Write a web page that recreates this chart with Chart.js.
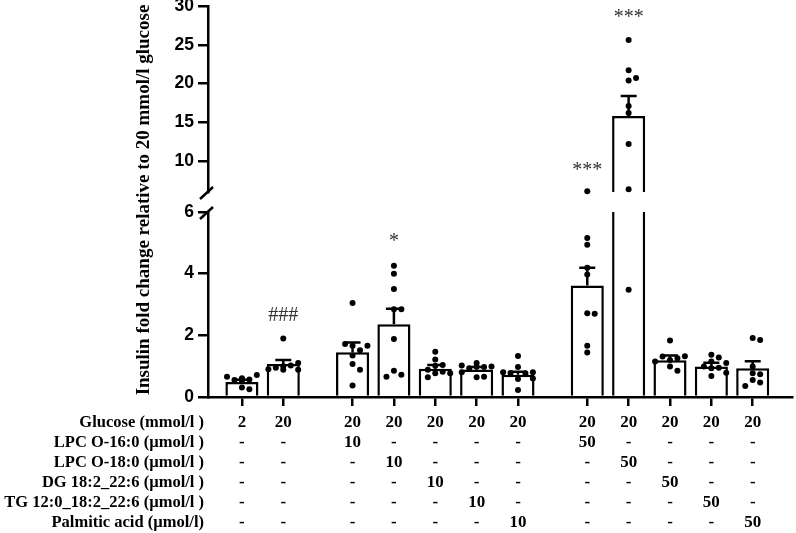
<!DOCTYPE html>
<html>
<head>
<meta charset="utf-8">
<script src="https://cdn.jsdelivr.net/npm/chart.js@4.4.0/dist/chart.umd.min.js"></script>
<style>
  html, body { margin: 0; padding: 0; background: #fff; }
  #wrap { position: relative; width: 796px; height: 533px; }
  .panel { position: absolute; left: 0; top: 0; width: 796px; }
</style>
</head>
<body>
<div id="wrap">
  <div class="panel" style="height:533px"><canvas id="lowChart"></canvas></div>
  <div class="panel" style="height:205px"><canvas id="highChart"></canvas></div>
</div>
<script>
// treatment table, one entry per bar
const glucose  = ['2', '20', '20', '20', '20', '20', '20', '20', '20', '20', '20', '20'];
const lpcO16   = ['-', '-', '10', '-', '-', '-', '-', '50', '-', '-', '-', '-'];
const lpcO18   = ['-', '-', '-', '10', '-', '-', '-', '-', '50', '-', '-', '-'];
const dg       = ['-', '-', '-', '-', '10', '-', '-', '-', '-', '50', '-', '-'];
const tg       = ['-', '-', '-', '-', '-', '10', '-', '-', '-', '-', '50', '-'];
const palmitic = ['-', '-', '-', '-', '-', '-', '10', '-', '-', '-', '-', '50'];
const rowNames = ['Glucose (mmol/l )', 'LPC O-16:0 (µmol/l )', 'LPC O-18:0 (µmol/l )',
                  'DG 18:2_22:6 (µmol/l )', 'TG 12:0_18:2_22:6 (µmol/l )', 'Palmitic acid (µmol/l)'];
const blocks = [2, 5, 5];   // bars per block, blocks separated by a wider gap

// bar heights (mean) and error (SEM)
const means = [0.49, 1.07, 1.45, 2.36, 0.92, 0.89, 0.72, 3.62, 15.8, 1.19, 0.99, 0.93];
const sems  = [0.07, 0.13, 0.32, 0.50, 0.12, 0.08, 0.10, 0.57, 2.6, 0.16, 0.12, 0.23];

// individual points
const ptsG2      = [0.55, 0.57, 0.55, 0.31, 0.25, 0.71, 0.66, 0.61, 0.55];
const ptsG20     = [1.9, 1.0, 1.02, 0.95, 1.1, 0.88, 0.9, 0.88];
const ptsLpc16a  = [3.05, 1.66, 1.52, 1.72, 1.66, 1.35, 1.07, 0.88, 0.37];
const ptsLpc18a  = [4.26, 4.0, 3.5, 2.85, 2.85, 1.88, 0.85, 0.72, 0.66];
const ptsDga     = [1.47, 1.22, 1.01, 1.04, 0.88, 0.82, 0.77, 0.77, 0.64];
const ptsTga     = [1.1, 0.97, 0.93, 0.99, 1.02, 0.98, 0.64, 0.66, 0.8];
const ptsPalma   = [1.33, 0.97, 0.77, 0.78, 0.8, 0.8, 0.58, 0.6, 0.23];
const ptsLpc16b  = [6.1, 5.16, 4.94, 4.19, 3.97, 2.72, 2.7, 1.66, 1.44];
const ptsLpc18b  = [25.6, 21.7, 20.4, 20.7, 17.1, 16.2, 12.2, 6.35, 3.48];
const ptsDgb     = [1.83, 1.2, 1.26, 1.31, 1.32, 1.15, 0.99, 0.85];
const ptsTgb     = [1.37, 1.28, 1.15, 0.93, 0.95, 0.99, 0.79, 0.68, 1.1];
const ptsPalmb   = [1.91, 1.85, 0.99, 0.77, 0.74, 0.55, 0.47, 0.36];
const points = [ptsG2, ptsG20, ptsLpc16a, ptsLpc18a, ptsDga, ptsTga, ptsPalma,
                ptsLpc16b, ptsLpc18b, ptsDgb, ptsTgb, ptsPalmb];

// significance marks
const markText  = ['###', '*', '***', '***'];
const markBar   = [1, 3, 7, 8];
const markValue = [2.65, 5.05, 8.7, 28.5];

// broken y axis
const lowTicks  = [0, 2, 4, 6];
const highTicks = [10, 15, 20, 25, 30];
const breakAt = 6;

// x position of every bar
const xs = [];
blocks.forEach((n, b) => { for (let k = 0; k < n; k++) xs.push(xs.length + b * 0.675); });
const xMin = -0.82, xMax = 13.3;

// spread points sideways so they do not sit on top of each other
function spread(values) {
  const placed = [];
  const cands = [0, 0.18, -0.18, 0.36, -0.36, 0.09, -0.09, 0.27, -0.27];
  return values.map(v => {
    const tol = v > breakAt ? 0.8 : 0.2;
    let off = 0;
    for (const c of cands) {
      if (!placed.some(p => Math.abs(p.o - c) < 0.17 && Math.abs(p.v - v) < tol)) { off = c; break; }
    }
    placed.push({ o: off, v: v });
    return off;
  });
}
const allPoints = [];
points.forEach((vals, i) => {
  const offs = spread(vals);
  vals.forEach((v, j) => allPoints.push({ x: xs[i] + offs[j], y: v }));
});

const serif = 'Liberation Serif';
const sans = 'Liberation Sans';

const errorBars = {
  id: 'errorBars',
  afterDatasetsDraw(chart) {
    const { ctx, chartArea: a, scales } = chart;
    ctx.save();
    ctx.beginPath();
    ctx.rect(a.left, a.top - 2, a.right - a.left, a.bottom - a.top + 2);
    ctx.clip();
    ctx.strokeStyle = '#000';
    ctx.lineWidth = 2.5;
    means.forEach((m, i) => {
      const x = scales.x.getPixelForValue(xs[i]);
      const y0 = scales.y.getPixelForValue(m);
      const y1 = scales.y.getPixelForValue(m + sems[i]);
      ctx.beginPath();
      ctx.moveTo(x, y0); ctx.lineTo(x, y1);
      ctx.moveTo(x - 8, y1); ctx.lineTo(x + 8, y1);
      ctx.stroke();
    });
    ctx.restore();
    // significance marks inside this panel's range
    ctx.save();
    ctx.fillStyle = '#333';
    ctx.font = '20px "' + serif + '"';
    ctx.textAlign = 'center';
    ctx.textBaseline = 'middle';
    markText.forEach((t, k) => {
      const v = markValue[k];
      if (v < scales.y.min || v > scales.y.max) return;
      ctx.fillText(t, scales.x.getPixelForValue(xs[markBar[k]]), scales.y.getPixelForValue(v));
    });
    ctx.restore();
  }
};

const breakMark = {
  id: 'breakMark',
  afterDraw(chart, args, opts) {
    const { ctx, chartArea: a } = chart;
    const y = opts.atTop ? a.top : a.bottom;
    ctx.save();
    ctx.strokeStyle = '#000';
    ctx.lineWidth = 2.5;
    ctx.beginPath();
    ctx.moveTo(a.left - 8, y + 7);
    ctx.lineTo(a.left + 5, y - 5);
    ctx.stroke();
    ctx.restore();
  }
};

const tableAndTitle = {
  id: 'tableAndTitle',
  afterDraw(chart) {
    const { ctx, scales } = chart;
    const lh = 20;
    const top = scales.x.top + 9 + 7;
    ctx.save();
    ctx.fillStyle = '#000';
    ctx.font = 'bold 16.5px "' + serif + '"';
    ctx.textAlign = 'right';
    ctx.textBaseline = 'middle';
    rowNames.forEach((r, i) => ctx.fillText(r, 204, top + lh * (i + 0.5)));
    ctx.font = 'bold 19px "' + serif + '"';
    ctx.translate(144, 200);
    ctx.rotate(-Math.PI / 2);
    ctx.textAlign = 'center';
    ctx.fillText('Insulin fold change relative to 20 mmol/l glucose', 0, 0);
    ctx.restore();
  }
};

function yAxis(min, max, tickVals) {
  return {
    type: 'linear', min: min, max: max,
    afterBuildTicks: s => { s.ticks = tickVals.map(v => ({ value: v })); },
    afterFit: s => { s.width = 208; s.paddingTop = 0; s.paddingBottom = 0; },
    border: { display: true, color: '#000', width: 2.5 },
    grid: { drawOnChartArea: false, color: '#000', lineWidth: 2.5, tickLength: 10 },
    ticks: { color: '#000', padding: 4, font: { family: sans, weight: 'bold', size: 17.5 } }
  };
}

function barSet() {
  return {
    type: 'bar', order: 1,
    data: means.map((m, i) => ({ x: xs[i], y: m })),
    backgroundColor: '#fff', borderColor: '#000', borderWidth: 2.5,
    categoryPercentage: 0.8, barPercentage: 1, clip: 0
  };
}

function pointSet(keep) {
  return {
    type: 'scatter', order: 0,
    data: allPoints.filter(keep),
    pointRadius: 3, pointBackgroundColor: '#000', pointBorderWidth: 0,
    clip: false
  };
}

Chart.defaults.animation = false;

new Chart(document.getElementById('lowChart'), {
  type: 'bar',
  data: { datasets: [pointSet(p => p.y <= breakAt), barSet()] },
  options: {
    responsive: true, maintainAspectRatio: false, devicePixelRatio: 1,
    layout: { padding: { top: 212, right: 1, bottom: 0, left: 0 } },
    plugins: { legend: { display: false }, tooltip: { enabled: false }, breakMark: { atTop: true } },
    scales: {
      x: {
        type: 'linear', min: xMin, max: xMax, offset: false,
        afterBuildTicks: s => { s.ticks = xs.map(v => ({ value: v })); },
        afterFit: s => { s.height = 136; },
        border: { display: true, color: '#000', width: 2.5 },
        grid: { drawOnChartArea: false, offset: false, color: '#000', lineWidth: 2.5, tickLength: 9 },
        ticks: {
          color: '#000', padding: 7, autoSkip: false, maxRotation: 0,
          font: { family: serif, weight: 'bold', size: 17, lineHeight: 20 / 17 },
          callback: (v, i) => [glucose[i], lpcO16[i], lpcO18[i], dg[i], tg[i], palmitic[i]]
        }
      },
      y: yAxis(0, breakAt, lowTicks)
    }
  },
  plugins: [errorBars, breakMark, tableAndTitle]
});

new Chart(document.getElementById('highChart'), {
  type: 'bar',
  data: { datasets: [pointSet(p => p.y > breakAt), barSet()] },
  options: {
    responsive: true, maintainAspectRatio: false, devicePixelRatio: 1,
    layout: { padding: { top: 6, right: 1, bottom: 13, left: 0 } },
    plugins: { legend: { display: false }, tooltip: { enabled: false }, breakMark: { atTop: false } },
    scales: {
      x: { type: 'linear', min: xMin, max: xMax, offset: false, display: false },
      y: yAxis(breakAt, 30, highTicks)
    }
  },
  plugins: [errorBars, breakMark]
});
</script>
</body>
</html>
